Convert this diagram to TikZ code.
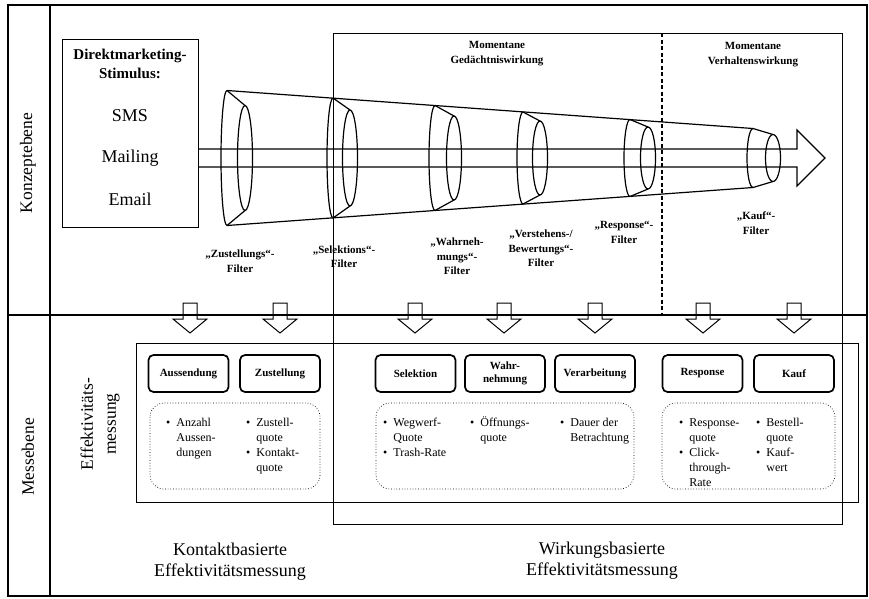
\documentclass[tikz,border=0pt]{standalone}
\usepackage{fontspec}
\setmainfont{Liberation Serif}
\begin{document}
\begin{tikzpicture}[x=1pt,y=-1pt,
  frame/.style={line width=1.3pt},
  thinframe/.style={line width=0.9pt},
  funnel/.style={line width=1.2pt},
  mbox/.style={draw, line width=1.7pt, rounded corners=5pt, minimum width=80pt, minimum height=37pt, inner sep=1pt, align=center, font=\fontsize{11}{13}\selectfont\bfseries},
  dbox/.style={draw, dotted, line width=0.7pt, rounded corners=14pt},
  flabel/.style={align=center, inner sep=0pt, font=\fontsize{11}{14.5}\selectfont\bfseries},
  hlabel/.style={align=center, inner sep=0pt, font=\fontsize{11}{15}\selectfont\bfseries},
  bigtext/.style={align=center, inner sep=0pt, font=\fontsize{17.5}{23}\selectfont},
  stimtext/.style={anchor=base, inner sep=0pt, font=\fontsize{18}{21}\selectfont},
  blist/.style={anchor=north west, inner sep=0pt, font=\fontsize{12}{15}\selectfont},
  downarrow/.style={line width=1pt}
]
\useasboundingbox (0,0) rectangle (869,598);

% outer frame
\draw[frame] (8,5) rectangle (867,596);
\draw[frame] (50,5) -- (50,596);
\draw[frame] (8,315) -- (867,315);

% effect region and measurement frame
\draw[thinframe] (333,33) rectangle (842,524);
\draw[line width=1.1pt, dash pattern=on 4pt off 2.5pt] (662,33) -- (662,315);
\draw[thinframe] (136,343) rectangle (858,502);

% level labels
\node[bigtext, rotate=90] (konzept) at (28,163) {Konzeptebene};
\node[bigtext, rotate=90] (messe) at (28,457) {Messebene};
\node[bigtext, rotate=90] (effmess) at (100,424) {Effektivitäts-\\messung};

% stimulus box
\node[draw, thinframe, minimum width=136pt, minimum height=188pt, inner sep=0pt] (stim) at (130,133) {};
\node[align=center, inner sep=0pt, font=\fontsize{15}{19}\selectfont\bfseries] (stimhead) at (130,64) {Direktmarketing-\\Stimulus:};
\node[stimtext] (sms) at (130,121) {SMS};
\node[stimtext] (mailing) at (130,162) {Mailing};
\node[stimtext] (email) at (130,205) {Email};

% funnel outline
\draw[funnel] (227,90.5) -- (753,128.5);
\draw[funnel] (227,225.5) -- (753,187.5);

% filters
\foreach \x/\h/\cx/\ry in {227/67.5/245/52.5, 333/60/350/48, 435/52.5/454/42, 523/46/540/37, 630/38.5/648/31, 753/29.5/773/23.5} {
  \draw[funnel] (\x,{158-\h}) arc[start angle=270, end angle=90, x radius=6, y radius=\h];
  \draw[funnel] (\cx,158) ellipse[x radius=7.5, y radius=\ry];
  \draw[funnel] (\x,{158-\h}) -- (\cx,{158-\ry});
  \draw[funnel] (\x,{158+\h}) -- (\cx,{158+\ry});
}

% main arrow
\draw[funnel] (stim.east |- 0,149) -- (797,149) -- (797,130) -- (825,158) -- (797,186) -- (797,167) -- (stim.east |- 0,167);

% headers
\node[hlabel] (hgedacht) at (497,53.5) {Momentane\\Ged\"achtniswirkung};
\node[hlabel] (hverhalt) at (753,54.5) {Momentane\\Verhaltenswirkung};

% filter labels
\node[flabel] (fzust) at (240,261) {„Zustellungs“-\\Filter};
\node[flabel] (fsel) at (344,256.5) {„Selektions“-\\Filter};
\node[flabel] (fwahr) at (457,256.5) {„Wahrneh-\\mungs“-\\Filter};
\node[flabel] (fverst) at (541,248.5) {„Verstehens-/\\Bewertungs“-\\Filter};
\node[flabel] (fresp) at (624,232.5) {„Response“-\\Filter};
\node[flabel] (fkauf) at (756,223) {„Kauf“-\\Filter};

% down arrows
\foreach \c in {190,280,415,504,595,703,794} {
  \draw[downarrow] (\c-7,303) -- (\c+7,303) -- (\c+7,319) -- (\c+17,319) -- (\c,333) -- (\c-17,319) -- (\c-7,319) -- cycle;
}

% measurement boxes
\node[mbox] (aus) at (188.5,373.5) {Aussendung};
\node[mbox] (zus) at (280,373.5) {Zustellung};
\node[mbox] (sel) at (415.5,373.5) {Selektion};
\node[mbox] (wah) at (505,373.5) {Wahr-\\nehmung};
\node[mbox] (ver) at (595,373.5) {Verarbeitung};
\node[mbox] (res) at (702.5,373.5) {Response};
\node[mbox] (kau) at (794,373.5) {Kauf};

% dotted boxes
\draw[dbox] (150,403) rectangle (320,489);
\draw[dbox] (376,403) rectangle (634,489);
\draw[dbox] (662,403) rectangle (835,489);

% indicator lists
\node[blist] (la) at (166,415.5) {\begin{tabular}{@{}c@{\hspace{6pt}}l@{}}\textbullet & Anzahl\\ & Aussen-\\ & dungen\end{tabular}};
\node[blist] (lz) at (246,415.5) {\begin{tabular}{@{}c@{\hspace{6pt}}l@{}}\textbullet & Zustell-\\ & quote\\ \textbullet & Kontakt-\\ & quote\end{tabular}};
\node[blist] (lw) at (383,415.5) {\begin{tabular}{@{}c@{\hspace{6pt}}l@{}}\textbullet & Wegwerf-\\ & Quote\\ \textbullet & Trash-Rate\end{tabular}};
\node[blist] (lo) at (470,415.5) {\begin{tabular}{@{}c@{\hspace{6pt}}l@{}}\textbullet & \"Offnungs-\\ & quote\end{tabular}};
\node[blist] (ld) at (560,415.5) {\begin{tabular}{@{}c@{\hspace{6pt}}l@{}}\textbullet & Dauer der\\ & Betrachtung\end{tabular}};
\node[blist] (lr) at (679,415.5) {\begin{tabular}{@{}c@{\hspace{6pt}}l@{}}\textbullet & Response-\\ & quote\\ \textbullet & Click-\\ & through-\\ & Rate\end{tabular}};
\node[blist] (lb) at (756,415.5) {\begin{tabular}{@{}c@{\hspace{6pt}}l@{}}\textbullet & Bestell-\\ & quote\\ \textbullet & Kauf-\\ & wert\end{tabular}};

% bottom labels
\node[align=center, inner sep=0pt, font=\fontsize{18}{21}\selectfont] (kontakt) at (230,562) {Kontaktbasierte\\Effektivit\"atsmessung};
\node[align=center, inner sep=0pt, font=\fontsize{18}{21}\selectfont] (wirkung) at (602,561) {Wirkungsbasierte\\Effektivit\"atsmessung};
\end{tikzpicture}
\end{document}
